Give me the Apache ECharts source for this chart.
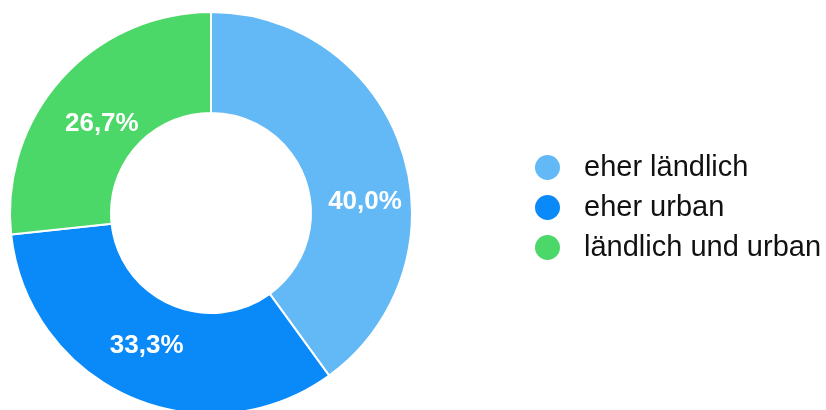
<!DOCTYPE html>
<html>
<head>
<meta charset="utf-8">
<script src="https://cdn.jsdelivr.net/npm/echarts@6/dist/echarts.min.js"></script>
<style>
  html, body { margin: 0; padding: 0; background: #fff; }
  #chart { width: 826px; height: 410px; }
</style>
</head>
<body>
<div id="chart"></div>
<script>
// Anteile nach Wohnumfeld (in Prozent)
const categories = ['eher ländlich', 'eher urban', 'ländlich und urban'];
const shares = [40.0, 33.3, 26.7];
const colors = ['#63B8F6', '#0A8AF9', '#4CD868'];

// Label nudges (dx, dy) per slice
const labelShift = [[8, 36], [-2, -7], [5, 13]];

const chart = echarts.init(document.getElementById('chart'));
chart.setOption({
  animation: false,
  color: colors,
  legend: {
    orient: 'vertical',
    left: 533,
    top: 153,
    padding: 0,
    icon: 'circle',
    itemWidth: 27,
    itemHeight: 27,
    itemGap: 11,
    textStyle: {
      fontFamily: '"Liberation Sans", Arial, sans-serif',
      fontSize: 29,
      lineHeight: 29,
      color: '#111',
      padding: [0, 0, 0, 18]
    },
    data: categories
  },
  series: [{
    type: 'pie',
    center: [211, 213],
    radius: [100, 201],
    startAngle: 90,
    clockwise: true,
    itemStyle: { borderColor: '#fff', borderWidth: 2 },
    label: {
      position: 'inside',
      color: '#fff',
      fontFamily: '"Liberation Sans", Arial, sans-serif',
      fontWeight: 'bold',
      fontSize: 26,
      formatter: p => p.value.toFixed(1).replace('.', ',') + '%'
    },
    labelLine: { show: false },
    labelLayout: p => ({ dx: labelShift[p.dataIndex][0], dy: labelShift[p.dataIndex][1] }),
    emphasis: { disabled: true },
    data: categories.map((c, i) => ({ name: c, value: shares[i] }))
  }]
});
</script>
</body>
</html>
